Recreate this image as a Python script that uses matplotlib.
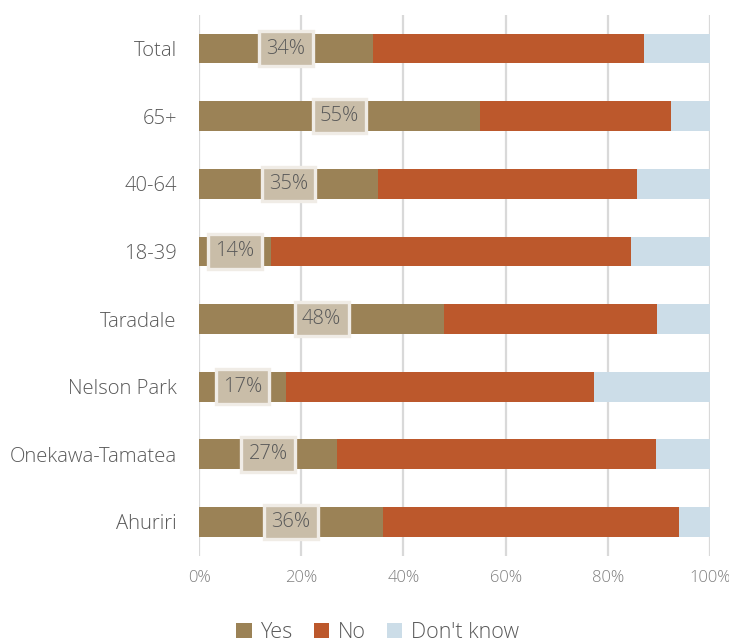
import numpy as np
import matplotlib.pyplot as plt
from matplotlib.patches import Patch

plt.rcParams["font.family"] = ["Open Sans", "DejaVu Sans"]

# Share of respondents per group (%), top to bottom
groups = ["Total", "65+", "40-64", "18-39", "Taradale", "Nelson Park",
          "Onekawa-Tamatea", "Ahuriri"]
yes = [34, 55, 35, 14, 48, 17, 27, 36]
no = [53, 37.4, 50.8, 70.5, 41.6, 60.3, 62.4, 58.0]
dont_know = [13, 7.6, 14.2, 15.5, 10.4, 22.7, 10.6, 6.0]

c_yes = "#9b8256"
c_no = "#bc582c"
c_dk = "#ccdde8"

fig = plt.figure(figsize=(7.29, 6.44), dpi=100)
ax = fig.add_axes([0.273, 0.137, 0.701, 0.84])

y = np.arange(len(groups))
yes_a = np.array(yes)
no_a = np.array(no)
dk_a = np.array(dont_know)
h = 0.44

ax.barh(y, yes_a, height=h, color=c_yes, zorder=3)
ax.barh(y, no_a, left=yes_a, height=h, color=c_no, zorder=3)
ax.barh(y, dk_a, left=yes_a + no_a, height=h, color=c_dk, zorder=3)

# value labels in the middle of the "Yes" segment
for yi, v in zip(y, yes):
    ax.text(v / 2, yi, f"{v}%", ha="center", va="center", fontsize=14.5,
            fontweight="light", color="#595959", zorder=4,
            bbox=dict(boxstyle="square,pad=0.36", facecolor="#c9bda8",
                      edgecolor="#f0ece6", linewidth=2.4))

ax.set_xlim(0, 100)
ax.set_ylim(len(groups) - 0.5, -0.5)
ax.set_xticks(np.arange(0, 101, 20))
ax.set_xticklabels([f"{t}%" for t in range(0, 101, 20)])
ax.set_yticks(y)
ax.set_yticklabels(groups)

ax.tick_params(axis="y", length=0, pad=16, labelsize=14.6, labelcolor="#595959")
ax.tick_params(axis="x", length=0, pad=10, labelsize=12, labelcolor="#7f7f7f")
for lbl in ax.get_yticklabels() + ax.get_xticklabels():
    lbl.set_fontweight("light")

ax.grid(axis="x", color="#d9d9d9", linewidth=1.6, zorder=0)
for s in ax.spines.values():
    s.set_visible(False)

handles = [Patch(facecolor=c_yes), Patch(facecolor=c_no), Patch(facecolor=c_dk)]
leg = fig.legend(handles, ["Yes", "No", "Don't know"], loc="center",
                 bbox_to_anchor=(0.518, 0.018), ncol=3, frameon=False,
                 fontsize=15.5, handlelength=0.7, handleheight=0.7,
                 handletextpad=0.4, columnspacing=1.0)
for t in leg.get_texts():
    t.set_color("#595959")
    t.set_fontweight("light")

fig.savefig("out.png", dpi=100)
